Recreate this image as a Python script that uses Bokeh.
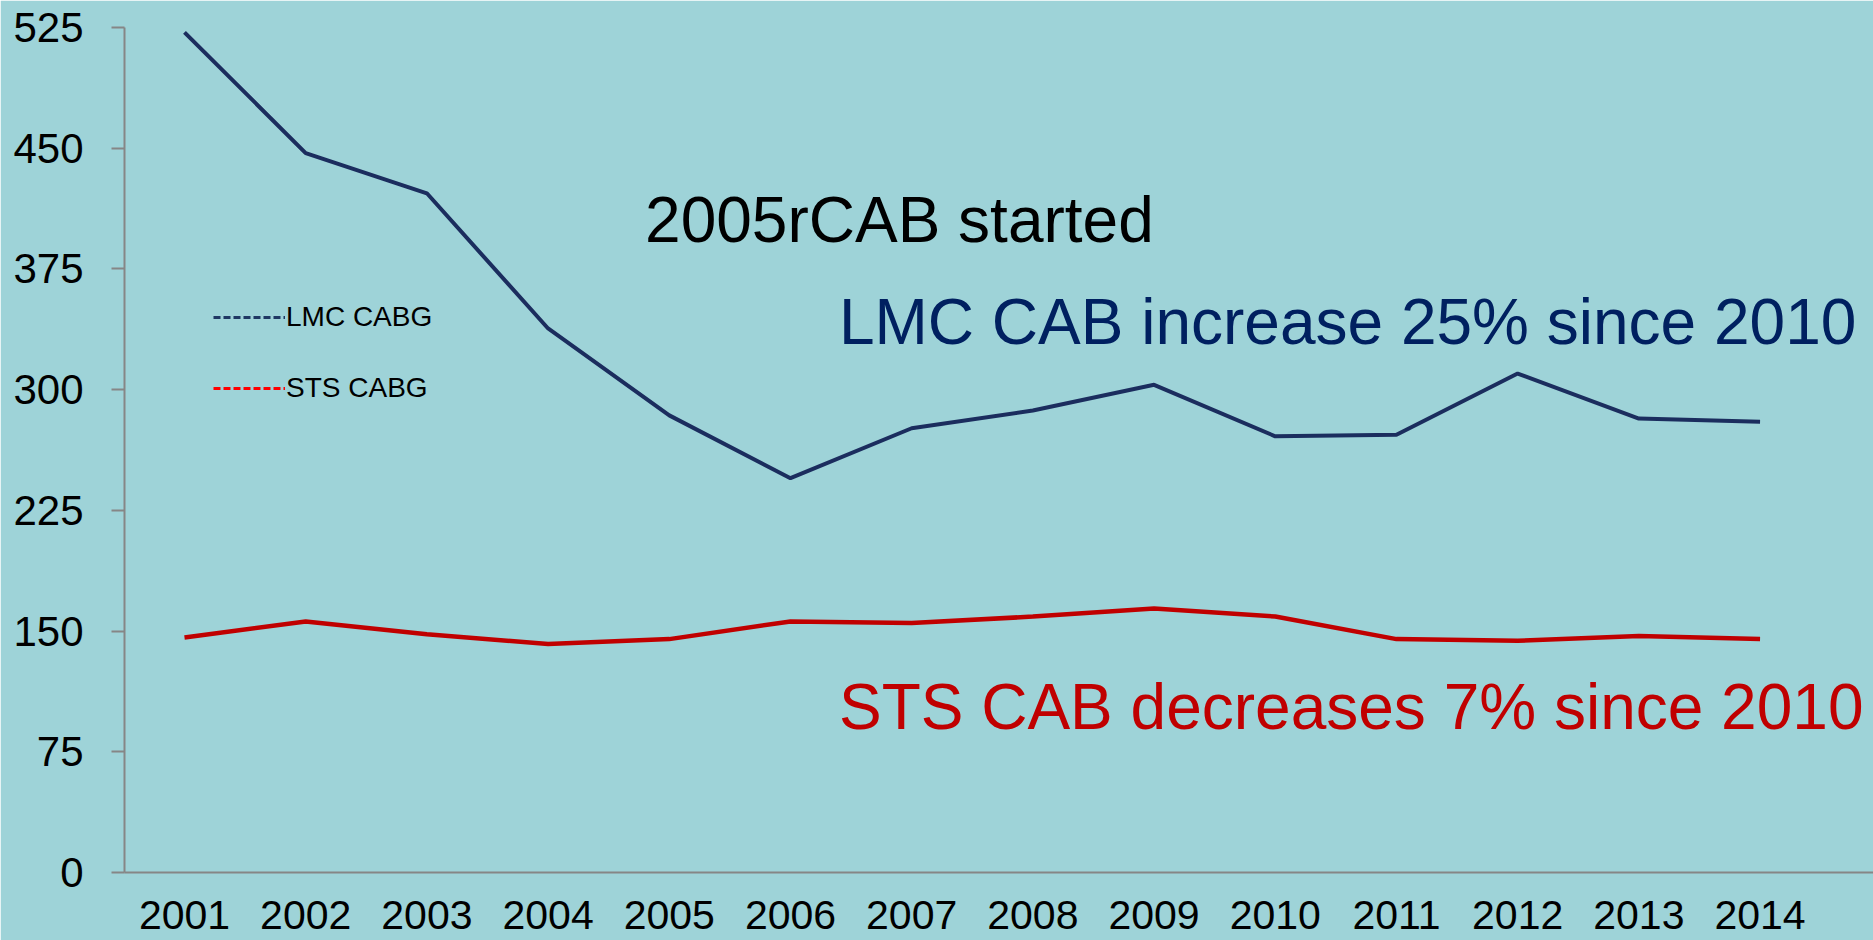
from bokeh.plotting import figure
from bokeh.models import Range1d, FixedTicker, Label, Legend, LegendItem
from bokeh.embed import file_html
from bokeh.resources import INLINE

# ---- data ----
years = [2001, 2002, 2003, 2004, 2005, 2006, 2007, 2008, 2009, 2010, 2011, 2012, 2013, 2014]
year_labels = [str(y) for y in years]
lmc_cabg = [522, 447, 422, 338, 284, 245, 276, 287, 303, 271, 272, 310, 282, 280]
sts_cabg = [146, 156, 148, 142, 145, 156, 155, 159, 164, 159, 145, 144, 147, 145]
y_ticks = [0, 75, 150, 225, 300, 375, 450, 525]
series_names = ["LMC CABG", "STS CABG"]
notes = ["2005rCAB started", "LMC CAB increase 25% since 2010", "STS CAB decreases 7% since 2010"]

# ---- style ----
BG = "#9ED3D8"
AXIS = "#868686"
BLUE_LINE = "#1B2D5E"
RED_LINE = "#C00000"
BLUE_TXT = "#002060"
RED_TXT = "#C00000"
FONT = "Liberation Sans"

p = figure(width=1873, height=940, output_backend="svg", toolbar_location=None,
           x_range=Range1d(2000.505, 2014.936), y_range=Range1d(0, 525),
           min_border_left=124, min_border_right=0, min_border_top=27, min_border_bottom=68)
p.background_fill_color = BG
p.border_fill_color = BG
p.outline_line_color = BG
p.outline_line_width = 2
p.grid.visible = False

# axes
p.yaxis.ticker = FixedTicker(ticks=y_ticks)
p.yaxis.minor_tick_line_color = None
p.yaxis.major_tick_in = 0
p.yaxis.major_tick_out = 13
p.yaxis.major_label_standoff = 28
p.yaxis.axis_line_color = AXIS
p.yaxis.axis_line_width = 2
p.yaxis.major_tick_line_color = AXIS
p.yaxis.major_tick_line_width = 2
p.yaxis.major_label_text_font = FONT
p.yaxis.major_label_text_font_size = "42px"
p.yaxis.major_label_text_color = "black"

p.xaxis.ticker = FixedTicker(ticks=years)
p.xaxis.major_label_overrides = {y: s for y, s in zip(years, year_labels)}
p.xaxis.minor_tick_line_color = None
p.xaxis.major_tick_line_color = None
p.xaxis.major_tick_in = 0
p.xaxis.major_tick_out = 0
p.xaxis.major_label_standoff = 28
p.xaxis.axis_line_color = AXIS
p.xaxis.axis_line_width = 2
p.xaxis.major_label_text_font = FONT
p.xaxis.major_label_text_font_size = "41px"
p.xaxis.major_label_text_color = "black"
p.xaxis.major_label_text_line_height = 0.85

# lines
p.line(years, lmc_cabg, line_color=BLUE_LINE, line_width=4)
p.line(years, sts_cabg, line_color=RED_LINE, line_width=4.5)

# legend (dashed samples; single-point lines draw nothing in the plot)
lg1 = p.line(years[:1], lmc_cabg[:1], line_color="#1F3864", line_width=3, line_dash="7 3")
lg2 = p.line(years[:1], sts_cabg[:1], line_color="#FF0000", line_width=3, line_dash="7 3")
legend = Legend(items=[LegendItem(label=series_names[0], renderers=[lg1]),
                       LegendItem(label=series_names[1], renderers=[lg2])],
                location=(89, 464), glyph_width=72, glyph_height=40, label_height=40,
                label_standoff=1, spacing=31, padding=0, margin=0,
                background_fill_alpha=0, border_line_alpha=0,
                label_text_font=FONT, label_text_font_size="28px", label_text_color="black")
p.add_layout(legend)

# annotations
p.add_layout(Label(x=2004.80, y=405.5, text=notes[0], text_font=FONT, text_font_size="64px",
                   text_color="black", text_baseline="alphabetic"))
p.add_layout(Label(x=2006.40, y=342.0, text=notes[1], text_font=FONT, text_font_size="64px",
                   text_color=BLUE_TXT, text_baseline="alphabetic"))
p.add_layout(Label(x=2006.40, y=102.7, text=notes[2], text_font=FONT, text_font_size="64px",
                   text_color=RED_TXT, text_baseline="alphabetic"))

open("out.html", "w").write(file_html(p, INLINE))
